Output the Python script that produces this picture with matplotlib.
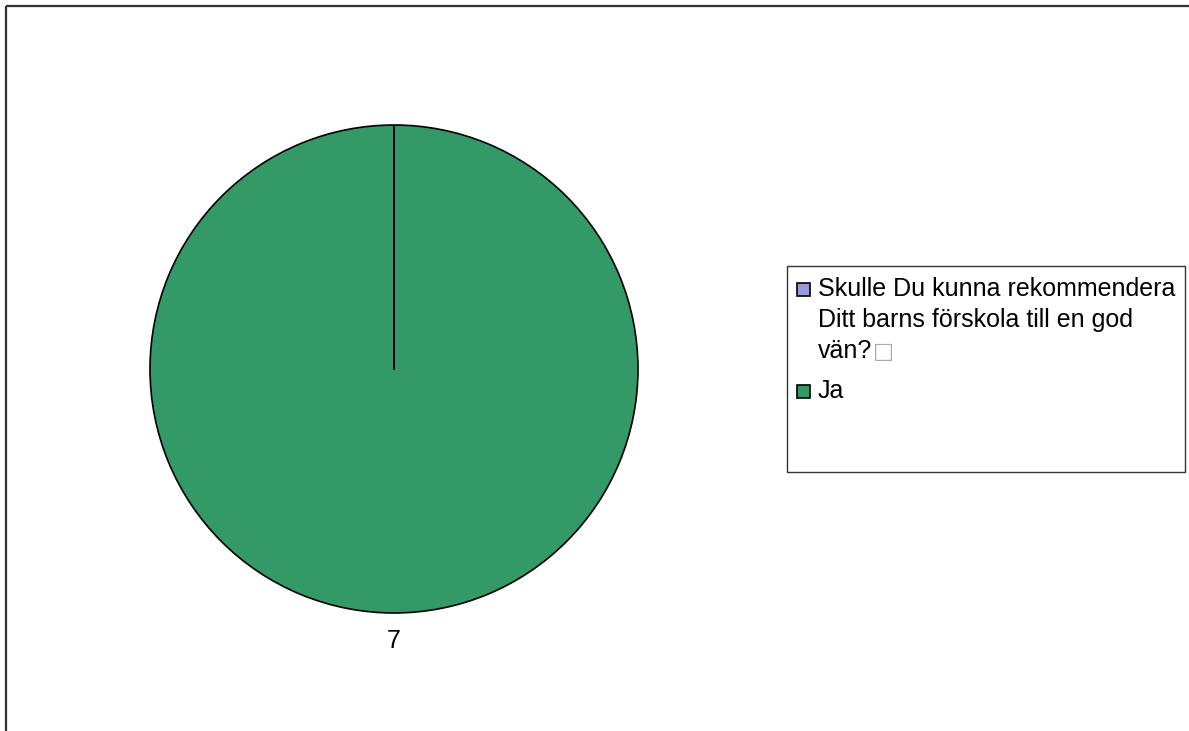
"""
    Pie chart: Skulle Du kunna rekommendera Ditt barns förskola till en god vän?
"""

import matplotlib
matplotlib.use('Agg')
import numpy as np
import matplotlib.pyplot as plt
from matplotlib.patches import Rectangle
from matplotlib.lines import Line2D

plt.rcParams['font.family'] = ['Liberation Sans', 'DejaVu Sans']

labels = ['Skulle Du kunna rekommendera\nDitt barns förskola till en god\nvän?\u25a1', 'Ja']
values = [0, 7]
colors = ['#9999dd', '#339966']

W, H = 1189, 731
fig = plt.figure(figsize=(W / 100, H / 100), dpi=100)
fig.patch.set_facecolor('white')
fig.patch.set_edgecolor('none')
fig.patch.set_linewidth(0)

# outer frame: only top and left edges are inside the picture
fig.add_artist(Line2D([6 / W, 1.02], [1 - 6 / H, 1 - 6 / H], transform=fig.transFigure,
                      color='#333333', linewidth=1.6, solid_capstyle='butt'))
fig.add_artist(Line2D([6 / W, 6 / W], [-0.02, 1 - 6 / H], transform=fig.transFigure,
                      color='#333333', linewidth=1.6, solid_capstyle='butt'))

# pie axes: centre (394, 369), radius 244 px
ax = fig.add_axes([150 / W, 118 / H, 488 / W, 488 / H])
wedges, texts = ax.pie(values, colors=colors, startangle=90, counterclock=False,
                       labels=[str(v) if v else '' for v in values], labeldistance=1.115,
                       wedgeprops=dict(edgecolor='black', linewidth=1.2),
                       textprops=dict(fontsize=18))
for t in texts:
    t.set_verticalalignment('center')
    t.set_horizontalalignment('center')

# zero-sized slice still shows as a radius line
for w, v in zip(wedges, values):
    if v == 0:
        a = np.deg2rad(w.theta1)
        ax.plot([0, w.r * np.cos(a)], [0, w.r * np.sin(a)], color='black', linewidth=1.4)

ax.set_xlim(-1, 1)
ax.set_ylim(-1, 1)
ax.set_aspect('equal')
ax.axis('off')

# legend box drawn by hand
fig.patches.append(Rectangle((787 / W, 1 - 472 / H), 398 / W, 206 / H, transform=fig.transFigure,
                             fill=False, edgecolor='#333333', linewidth=1.0))
marker_y = [289, 391]
text_y = [296, 398]
renderer = fig.canvas.get_renderer()
for lab, col, my, ty in zip(labels, colors, marker_y, text_y):
    fig.patches.append(Rectangle((797 / W, 1 - (my + 6.5) / H), 13 / W, 13 / H,
                                 transform=fig.transFigure, facecolor=col,
                                 edgecolor='black', linewidth=1.2))
    for i, line in enumerate(lab.split('\n')):
        y = 1 - (ty + 31 * i) / H
        box = line.endswith('\u25a1')
        t = fig.text(818 / W, y, line.rstrip('\u25a1'), fontsize=18, va='baseline', ha='left')
        if box:
            ext = t.get_window_extent(renderer)
            fig.text((ext.x1 + 1) / W, y, '\u25a1', fontsize=16, va='baseline', ha='left',
                     color='#aaaaaa', family='DejaVu Sans')

fig.savefig('out.png', dpi=100)
